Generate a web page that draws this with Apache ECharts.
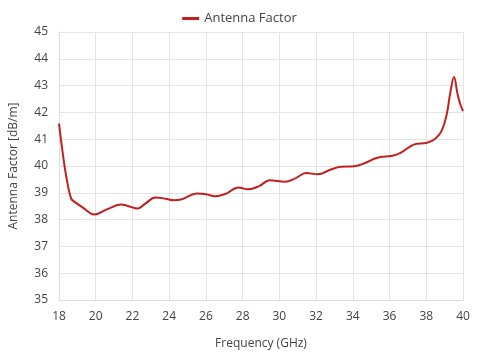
<!DOCTYPE html>
<html><head><meta charset="utf-8">
<script src="https://cdn.jsdelivr.net/npm/echarts@6/dist/echarts.min.js"></script>
<style>html,body{margin:0;padding:0;background:#fff}#c{width:479px;height:356px}</style>
</head><body><div id="c"></div>
<script>
const seriesName = 'Antenna Factor';
const freq = [18, 18.2, 18.4, 18.66, 18.85, 19.3, 19.93, 20.6, 21.37, 21.8, 22.27, 22.7, 23.26, 23.8, 24.25, 24.7, 25.5, 26.0, 26.5, 27.1, 27.77, 28.3, 28.9, 29.48, 30.3, 30.9, 31.46, 32.09, 32.8, 33.35, 34.07, 34.7, 35.33, 36.15, 36.6, 37.32, 38.04, 38.49, 38.85, 39.12, 39.3, 39.51, 39.7, 39.84, 40];
const factor = [41.58, 40.5, 39.59, 38.79, 38.66, 38.45, 38.19, 38.38, 38.56, 38.5, 38.41, 38.6, 38.82, 38.78, 38.72, 38.76, 38.97, 38.95, 38.87, 38.97, 39.2, 39.13, 39.25, 39.47, 39.41, 39.55, 39.74, 39.69, 39.87, 39.97, 39.99, 40.12, 40.31, 40.38, 40.49, 40.8, 40.87, 41.02, 41.33, 41.95, 42.7, 43.32, 42.7, 42.33, 42.05];
const xTicks = [18, 40, 2];
const yTicks = [35, 45, 1];

const font = 'Open Sans';
const chart = echarts.init(document.getElementById('c'));
chart.setOption({
  animation: false,
  textStyle: { fontFamily: font },
  legend: {
    top: 7, left: 'center', itemWidth: 17, itemHeight: 3, itemGap: 5,
    textStyle: { fontFamily: font, fontSize: 13, color: '#444' },
    data: [{ name: seriesName, icon: 'rect' }]
  },
  grid: { left: 56, right: 16, top: 32, bottom: 56 },
  xAxis: {
    type: 'value', min: xTicks[0], max: xTicks[1], interval: xTicks[2],
    name: 'Frequency (GHz)', nameLocation: 'middle', nameGap: 38,
    nameTextStyle: { fontFamily: font, fontSize: 12, color: '#444' },
    axisLine: { show: true, lineStyle: { color: '#ddd' } },
    axisTick: { show: false },
    axisLabel: { fontFamily: font, fontSize: 12, color: '#444', margin: 11 },
    splitLine: { show: true, lineStyle: { color: '#e4e4e4', width: 1 } }
  },
  yAxis: {
    type: 'value', min: yTicks[0], max: yTicks[1], interval: yTicks[2],
    name: 'Antenna Factor [dB/m]', nameLocation: 'middle', nameGap: 39,
    nameTextStyle: { fontFamily: font, fontSize: 12, color: '#444' },
    axisLine: { show: true, lineStyle: { color: '#ddd' } },
    axisTick: { show: false },
    axisLabel: { fontFamily: font, fontSize: 12, color: '#444', margin: 11 },
    splitLine: { show: true, lineStyle: { color: '#e4e4e4', width: 1 } }
  },
  series: [{
    name: seriesName, type: 'line', smooth: 0.4, showSymbol: false,
    data: freq.map((f, i) => [f, factor[i]]),
    lineStyle: { color: '#c0211f', width: 2 },
    itemStyle: { color: '#c0211f' }
  }]
});
</script></body></html>
